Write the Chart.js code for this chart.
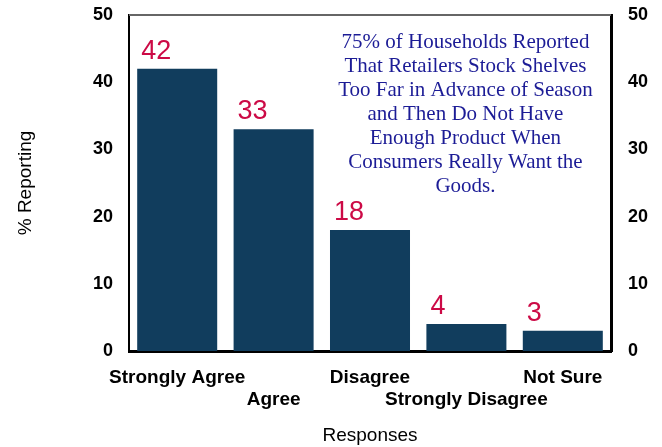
<!DOCTYPE html>
<html>
<head>
<meta charset="utf-8">
<script src="https://cdn.jsdelivr.net/npm/chart.js@4/dist/chart.umd.min.js"></script>
<style>
  html, body { margin: 0; padding: 0; background: #fff; }
  #wrap { width: 662px; height: 447px; }
</style>
</head>
<body>
<div id="wrap"><canvas id="c" width="662" height="447"></canvas></div>
<script>
// dati del grafico
const categories = ['Strongly Agree', 'Agree', 'Disagree', 'Strongly Disagree', 'Not Sure'];
// etichette sfalsate su due righe
const tickLabels = [['Strongly Agree', ''], ['', 'Agree'], ['Disagree', ''], ['', 'Strongly Disagree'], ['Not Sure', '']];
const percentReporting = [42, 33, 18, 4, 3];
const yTicks = [0, 10, 20, 30, 40, 50];
const noteLines = [
    '75% of Households Reported',
    'That Retailers Stock Shelves',
    'Too Far in Advance of Season',
    'and Then Do Not Have',
    'Enough Product When',
    'Consumers Really Want the',
    'Goods.'
];

const BAR_COLOR = '#113d5d';
const LABEL_COLOR = '#cc0a46';
const NOTE_COLOR = '#1c1c96';
const SANS = 'Arial, "Liberation Sans", sans-serif';

// Valori sopra le barre, allineati a sinistra della barra
const valueLabels = {
    id: 'valueLabels',
    afterDatasetsDraw(chart) {
        const ctx = chart.ctx;
        const meta = chart.getDatasetMeta(0);
        ctx.save();
        ctx.fillStyle = LABEL_COLOR;
        ctx.font = '27px ' + SANS;
        ctx.textAlign = 'left';
        ctx.textBaseline = 'alphabetic';
        meta.data.forEach((bar, i) => {
            ctx.fillText(String(percentReporting[i]), bar.x - bar.width / 2 + 4, bar.y - 10);
        });
        ctx.restore();
    }
};

// Riquadro di testo e bordo superiore
const noteBox = {
    id: 'noteBox',
    afterDraw(chart) {
        const ctx = chart.ctx;
        const area = chart.chartArea;
        ctx.save();
        ctx.strokeStyle = '#666';
        ctx.lineWidth = 2;
        ctx.beginPath();
        ctx.moveTo(area.left, area.top);
        ctx.lineTo(area.right, area.top);
        ctx.stroke();

        ctx.fillStyle = NOTE_COLOR;
        ctx.font = '21px "Times New Roman", "Liberation Serif", serif';
        ctx.textAlign = 'center';
        ctx.textBaseline = 'middle';
        const cx = chart.scales.x.getPixelForValue(2.99);
        const y0 = chart.scales.y.getPixelForValue(45.9);
        noteLines.forEach((line, i) => {
            ctx.fillText(line, cx, y0 + i * 24);
        });
        ctx.restore();
    }
};

const tickFont = { family: SANS, size: 18, weight: 'bold' };

// larghezza fissa e niente padding extra sugli assi verticali
function fitY(width) {
    return function (axis) {
        axis.width = width;
        axis.paddingTop = 0;
        axis.paddingBottom = 0;
    };
}

new Chart(document.getElementById('c').getContext('2d'), {
    type: 'bar',
    data: {
        labels: tickLabels,
        datasets: [{
            label: '% Reporting',
            data: percentReporting,
            backgroundColor: BAR_COLOR,
            borderWidth: 0,
            barPercentage: 0.83,
            categoryPercentage: 1.0,
            yAxisID: 'y'
        }]
    },
    options: {
        responsive: false,
        animation: false,
        layout: { padding: { top: 15, bottom: 0 } },
        plugins: {
            legend: { display: false },
            tooltip: { enabled: false }
        },
        scales: {
            x: {
                afterFit(axis) { axis.height = 96; },
                grid: { display: false, drawTicks: false },
                border: { display: true, color: '#000', width: 3 },
                ticks: {
                    color: '#000',
                    font: { family: SANS, size: 19, weight: 'bold' },
                    maxRotation: 0,
                    autoSkip: false,
                    padding: 15
                },
                title: {
                    display: true,
                    text: 'Responses',
                    color: '#000',
                    font: { family: SANS, size: 19 },
                    padding: { top: 12, bottom: 0 }
                }
            },
            y: {
                position: 'left',
                min: 0,
                max: 50,
                afterBuildTicks(axis) { axis.ticks = yTicks.map(v => ({ value: v })); },
                afterFit: fitY(129),
                grid: { display: false, drawTicks: false },
                border: { display: true, color: '#000', width: 2 },
                ticks: { color: '#000', font: tickFont, padding: 16 },
                title: {
                    display: true,
                    text: '% Reporting',
                    color: '#000',
                    font: { family: SANS, size: 19 },
                    padding: { top: 14, bottom: 0 }
                }
            },
            y2: {
                position: 'right',
                min: 0,
                max: 50,
                afterBuildTicks(axis) { axis.ticks = yTicks.map(v => ({ value: v })); },
                afterFit: fitY(51),
                grid: { display: false, drawTicks: false },
                border: { display: true, color: '#000', width: 3 },
                ticks: { color: '#000', font: tickFont, padding: 17 }
            }
        }
    },
    plugins: [valueLabels, noteBox]
});
</script>
</body>
</html>
